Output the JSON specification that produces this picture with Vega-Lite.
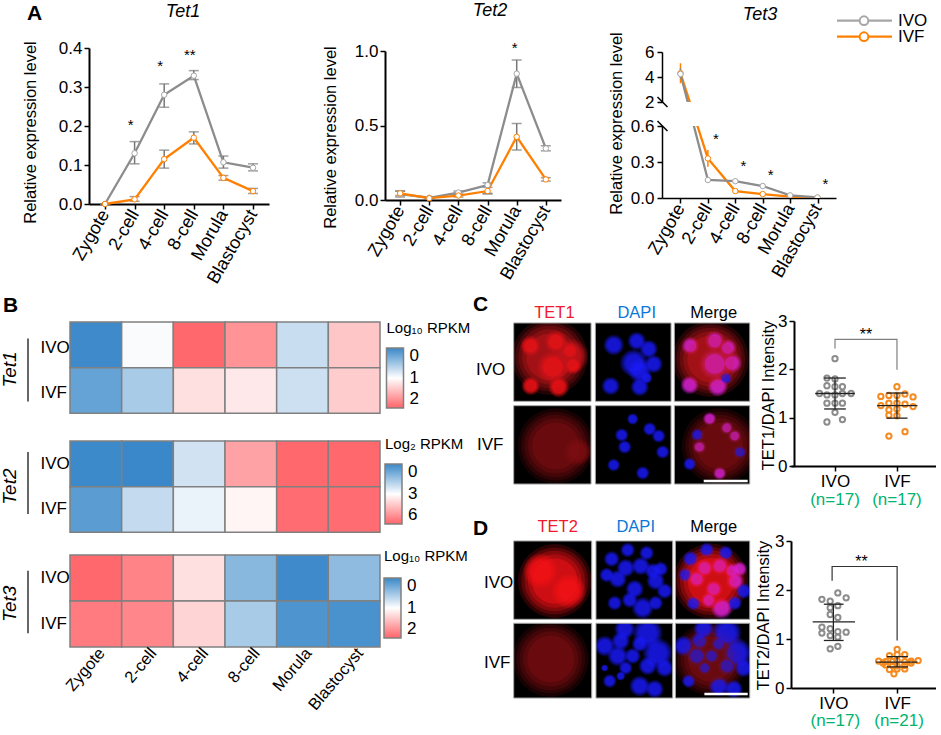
{
"$schema":"https://vega.github.io/schema/vega-lite/v6.json",
"padding":0,"background":"white","spacing":0,
"resolve":{"scale":{"color":"independent"},"legend":{"color":"independent"}},
"config":{"view":{"stroke":null},"font":"Liberation Sans","title":{"fontStyle":"italic","fontWeight":"normal","fontSize":18,"color":"black"},
"axis":{"domainColor":"black","tickColor":"black","labelColor":"black","titleColor":"black","grid":false,"titleFontWeight":"normal","domainWidth":2,"tickWidth":1.5,"tickSize":5,"labelFontSize":17,"titleFontSize":16.5}},
"datasets":{
"lines":[
{"panel":"Tet1","stage":"Zygote","group":"IVO","value":0,"lo":0,"hi":0},{"panel":"Tet1","stage":"2-cell","group":"IVO","value":0.13,"lo":0.103,"hi":0.16},{"panel":"Tet1","stage":"4-cell","group":"IVO","value":0.28,"lo":0.248,"hi":0.308},{"panel":"Tet1","stage":"8-cell","group":"IVO","value":0.329,"lo":0.319,"hi":0.342},{"panel":"Tet1","stage":"Morula","group":"IVO","value":0.107,"lo":0.092,"hi":0.123},{"panel":"Tet1","stage":"Blastocyst","group":"IVO","value":0.093,"lo":0.085,"hi":0.103},
{"panel":"Tet1","stage":"Zygote","group":"IVF","value":0,"lo":0,"hi":0},{"panel":"Tet1","stage":"2-cell","group":"IVF","value":0.012,"lo":0.007,"hi":0.019},{"panel":"Tet1","stage":"4-cell","group":"IVF","value":0.115,"lo":0.092,"hi":0.138},{"panel":"Tet1","stage":"8-cell","group":"IVF","value":0.17,"lo":0.154,"hi":0.185},{"panel":"Tet1","stage":"Morula","group":"IVF","value":0.067,"lo":0.061,"hi":0.073},{"panel":"Tet1","stage":"Blastocyst","group":"IVF","value":0.033,"lo":0.027,"hi":0.04},
{"panel":"Tet2","stage":"Zygote","group":"IVO","value":0.04,"lo":0.02,"hi":0.06},{"panel":"Tet2","stage":"2-cell","group":"IVO","value":0.015,"lo":0.008,"hi":0.022},{"panel":"Tet2","stage":"4-cell","group":"IVO","value":0.05,"lo":0.035,"hi":0.06},{"panel":"Tet2","stage":"8-cell","group":"IVO","value":0.1,"lo":0.045,"hi":0.115},{"panel":"Tet2","stage":"Morula","group":"IVO","value":0.848,"lo":0.755,"hi":0.94},{"panel":"Tet2","stage":"Blastocyst","group":"IVO","value":0.346,"lo":0.33,"hi":0.364},
{"panel":"Tet2","stage":"Zygote","group":"IVF","value":0.045,"lo":0.03,"hi":0.06},{"panel":"Tet2","stage":"2-cell","group":"IVF","value":0.012,"lo":0.005,"hi":0.02},{"panel":"Tet2","stage":"4-cell","group":"IVF","value":0.03,"lo":0.02,"hi":0.04},{"panel":"Tet2","stage":"8-cell","group":"IVF","value":0.06,"lo":0.04,"hi":0.085},{"panel":"Tet2","stage":"Morula","group":"IVF","value":0.424,"lo":0.335,"hi":0.513},{"panel":"Tet2","stage":"Blastocyst","group":"IVF","value":0.138,"lo":0.127,"hi":0.15},
{"panel":"Tet3up","stage":"Zygote","group":"IVF","value":4.3,"lo":3.5,"hi":5.1},{"panel":"Tet3up","stage":"2-cell","group":"IVF","value":-2.48,"lo":-2.48,"hi":-2.48},
{"panel":"Tet3up","stage":"Zygote","group":"IVO","value":4.24,"lo":3.9,"hi":4.7},{"panel":"Tet3up","stage":"2-cell","group":"IVO","value":-4.24,"lo":-4.24,"hi":-4.24},
{"panel":"Tet3low","stage":"Zygote","group":"IVF","value":1.04,"lo":1.04,"hi":1.04},{"panel":"Tet3low","stage":"2-cell","group":"IVF","value":0.33,"lo":0.26,"hi":0.4},{"panel":"Tet3low","stage":"4-cell","group":"IVF","value":0.058,"lo":0.05,"hi":0.066},{"panel":"Tet3low","stage":"8-cell","group":"IVF","value":0.033,"lo":0.028,"hi":0.038},{"panel":"Tet3low","stage":"Morula","group":"IVF","value":0.011,"lo":0.008,"hi":0.014},{"panel":"Tet3low","stage":"Blastocyst","group":"IVF","value":0.002,"lo":0,"hi":0.004},
{"panel":"Tet3low","stage":"Zygote","group":"IVO","value":1.03,"lo":1.03,"hi":1.03},{"panel":"Tet3low","stage":"2-cell","group":"IVO","value":0.15,"lo":0.145,"hi":0.155},{"panel":"Tet3low","stage":"4-cell","group":"IVO","value":0.14,"lo":0.13,"hi":0.15},{"panel":"Tet3low","stage":"8-cell","group":"IVO","value":0.1,"lo":0.093,"hi":0.107},{"panel":"Tet3low","stage":"Morula","group":"IVO","value":0.022,"lo":0.018,"hi":0.026},{"panel":"Tet3low","stage":"Blastocyst","group":"IVO","value":0.005,"lo":0.002,"hi":0.008}
],
"heat":[
{"gene":"Tet1","group":"IVO","stage":"Zygote","v":0.02},{"gene":"Tet1","group":"IVO","stage":"2-cell","v":0.97},{"gene":"Tet1","group":"IVO","stage":"4-cell","v":1.97},{"gene":"Tet1","group":"IVO","stage":"8-cell","v":1.7},{"gene":"Tet1","group":"IVO","stage":"Morula","v":0.72},{"gene":"Tet1","group":"IVO","stage":"Blastocyst","v":1.37},
{"gene":"Tet1","group":"IVF","stage":"Zygote","v":0.22},{"gene":"Tet1","group":"IVF","stage":"2-cell","v":0.56},{"gene":"Tet1","group":"IVF","stage":"4-cell","v":1.2},{"gene":"Tet1","group":"IVF","stage":"8-cell","v":1.15},{"gene":"Tet1","group":"IVF","stage":"Morula","v":0.74},{"gene":"Tet1","group":"IVF","stage":"Blastocyst","v":1.33},
{"gene":"Tet2","group":"IVO","stage":"Zygote","v":0.05},{"gene":"Tet2","group":"IVO","stage":"2-cell","v":0},{"gene":"Tet2","group":"IVO","stage":"4-cell","v":2.3},{"gene":"Tet2","group":"IVO","stage":"8-cell","v":4.8},{"gene":"Tet2","group":"IVO","stage":"Morula","v":5.9},{"gene":"Tet2","group":"IVO","stage":"Blastocyst","v":5.9},
{"gene":"Tet2","group":"IVF","stage":"Zygote","v":0.5},{"gene":"Tet2","group":"IVF","stage":"2-cell","v":2.1},{"gene":"Tet2","group":"IVF","stage":"4-cell","v":2.7},{"gene":"Tet2","group":"IVF","stage":"8-cell","v":3.2},{"gene":"Tet2","group":"IVF","stage":"Morula","v":5.85},{"gene":"Tet2","group":"IVF","stage":"Blastocyst","v":5.85},
{"gene":"Tet3","group":"IVO","stage":"Zygote","v":1.97},{"gene":"Tet3","group":"IVO","stage":"2-cell","v":1.8},{"gene":"Tet3","group":"IVO","stage":"4-cell","v":1.2},{"gene":"Tet3","group":"IVO","stage":"8-cell","v":0.4},{"gene":"Tet3","group":"IVO","stage":"Morula","v":0.02},{"gene":"Tet3","group":"IVO","stage":"Blastocyst","v":0.43},
{"gene":"Tet3","group":"IVF","stage":"Zygote","v":1.85},{"gene":"Tet3","group":"IVF","stage":"2-cell","v":1.78},{"gene":"Tet3","group":"IVF","stage":"4-cell","v":1.28},{"gene":"Tet3","group":"IVF","stage":"8-cell","v":0.56},{"gene":"Tet3","group":"IVF","stage":"Morula","v":0.1},{"gene":"Tet3","group":"IVF","stage":"Blastocyst","v":0.08}
],
"scatter":[
{"p":"C","g":"IVO","x":1,"y":2.22},{"p":"C","g":"IVO","x":0.87,"y":1.82},{"p":"C","g":"IVO","x":1,"y":1.8},{"p":"C","g":"IVO","x":1.12,"y":1.64},{"p":"C","g":"IVO","x":1,"y":1.64},{"p":"C","g":"IVO","x":0.87,"y":1.66},{"p":"C","g":"IVO","x":0.75,"y":1.5},{"p":"C","g":"IVO","x":0.87,"y":1.47},{"p":"C","g":"IVO","x":1,"y":1.47},{"p":"C","g":"IVO","x":1.12,"y":1.5},{"p":"C","g":"IVO","x":1.26,"y":1.5},{"p":"C","g":"IVO","x":0.87,"y":1.3},{"p":"C","g":"IVO","x":1,"y":1.3},{"p":"C","g":"IVO","x":1.12,"y":1.3},{"p":"C","g":"IVO","x":1,"y":1.11},{"p":"C","g":"IVO","x":0.87,"y":0.91},{"p":"C","g":"IVO","x":1.12,"y":0.96},
{"p":"C","g":"IVF","x":2,"y":1.64},{"p":"C","g":"IVF","x":1.87,"y":1.46},{"p":"C","g":"IVF","x":2,"y":1.46},{"p":"C","g":"IVF","x":2.13,"y":1.49},{"p":"C","g":"IVF","x":1.74,"y":1.44},{"p":"C","g":"IVF","x":2.26,"y":1.43},{"p":"C","g":"IVF","x":1.87,"y":1.3},{"p":"C","g":"IVF","x":2,"y":1.3},{"p":"C","g":"IVF","x":2.13,"y":1.28},{"p":"C","g":"IVF","x":1.74,"y":1.25},{"p":"C","g":"IVF","x":2.26,"y":1.23},{"p":"C","g":"IVF","x":1.87,"y":1.16},{"p":"C","g":"IVF","x":2,"y":1.18},{"p":"C","g":"IVF","x":2,"y":1.04},{"p":"C","g":"IVF","x":1.87,"y":1.05},{"p":"C","g":"IVF","x":1.87,"y":0.62},{"p":"C","g":"IVF","x":2.13,"y":0.71},
{"p":"D","g":"IVO","x":1.07,"y":1.94},{"p":"D","g":"IVO","x":1.2,"y":1.84},{"p":"D","g":"IVO","x":0.82,"y":1.81},{"p":"D","g":"IVO","x":0.95,"y":1.77},{"p":"D","g":"IVO","x":0.95,"y":1.64},{"p":"D","g":"IVO","x":1.07,"y":1.68},{"p":"D","g":"IVO","x":0.95,"y":1.5},{"p":"D","g":"IVO","x":1.07,"y":1.44},{"p":"D","g":"IVO","x":0.82,"y":1.24},{"p":"D","g":"IVO","x":0.95,"y":1.21},{"p":"D","g":"IVO","x":0.82,"y":1.12},{"p":"D","g":"IVO","x":1.07,"y":1.15},{"p":"D","g":"IVO","x":1.2,"y":1.14},{"p":"D","g":"IVO","x":0.95,"y":1.07},{"p":"D","g":"IVO","x":1.07,"y":1.04},{"p":"D","g":"IVO","x":1.07,"y":0.85},{"p":"D","g":"IVO","x":0.95,"y":0.8},
{"p":"D","g":"IVF","x":2,"y":0.79},{"p":"D","g":"IVF","x":2.12,"y":0.68},{"p":"D","g":"IVF","x":1.88,"y":0.66},{"p":"D","g":"IVF","x":2,"y":0.68},{"p":"D","g":"IVF","x":1.71,"y":0.55},{"p":"D","g":"IVF","x":1.82,"y":0.54},{"p":"D","g":"IVF","x":1.93,"y":0.54},{"p":"D","g":"IVF","x":2.12,"y":0.54},{"p":"D","g":"IVF","x":2.22,"y":0.55},{"p":"D","g":"IVF","x":2.33,"y":0.56},{"p":"D","g":"IVF","x":2,"y":0.56},{"p":"D","g":"IVF","x":1.82,"y":0.47},{"p":"D","g":"IVF","x":1.93,"y":0.46},{"p":"D","g":"IVF","x":2.12,"y":0.46},{"p":"D","g":"IVF","x":2,"y":0.45},{"p":"D","g":"IVF","x":2.22,"y":0.51},{"p":"D","g":"IVF","x":1.78,"y":0.51},{"p":"D","g":"IVF","x":1.88,"y":0.38},{"p":"D","g":"IVF","x":2,"y":0.39},{"p":"D","g":"IVF","x":2.12,"y":0.39},{"p":"D","g":"IVF","x":1.95,"y":0.29}
],
"bars":[
{"p":"C","x":0.68,"x2":1.32,"y":1.5,"y2":1.5},{"p":"C","x":1,"x2":1,"y":1.18,"y2":1.82},{"p":"C","x":0.825,"x2":1.175,"y":1.82,"y2":1.82},{"p":"C","x":0.825,"x2":1.175,"y":1.18,"y2":1.18},
{"p":"C","x":1.68,"x2":2.33,"y":1.25,"y2":1.25},{"p":"C","x":2,"x2":2,"y":0.99,"y2":1.51},{"p":"C","x":1.83,"x2":2.17,"y":1.51,"y2":1.51},{"p":"C","x":1.83,"x2":2.17,"y":0.99,"y2":0.99},
{"p":"D","x":0.675,"x2":1.34,"y":1.35,"y2":1.35},{"p":"D","x":1,"x2":1,"y":0.97,"y2":1.71},{"p":"D","x":0.85,"x2":1.16,"y":1.71,"y2":1.71},{"p":"D","x":0.85,"x2":1.16,"y":0.97,"y2":0.97},
{"p":"D","x":1.67,"x2":2.32,"y":0.53,"y2":0.53},{"p":"D","x":2,"x2":2,"y":0.43,"y2":0.64},{"p":"D","x":1.84,"x2":2.17,"y":0.64,"y2":0.64},{"p":"D","x":1.84,"x2":2.17,"y":0.43,"y2":0.43}
],
"bracket":[
{"p":"C","i":1,"x":1,"y":2.43},{"p":"C","i":2,"x":1,"y":2.62},{"p":"C","i":3,"x":2,"y":2.62},{"p":"C","i":4,"x":2,"y":1.99},
{"p":"D","i":1,"x":0.98,"y":2.19},{"p":"D","i":2,"x":0.98,"y":2.48},{"p":"D","i":3,"x":2,"y":2.48},{"p":"D","i":4,"x":2,"y":0.97}
],
"scatterText":[
{"p":"C","x":1.5,"y":2.72,"k":"star","label":"**"},{"p":"C","x":1,"y":-0.7,"k":"n","label":"(n=17)"},{"p":"C","x":2,"y":-0.7,"k":"n","label":"(n=17)"},
{"p":"D","x":1.44,"y":2.58,"k":"star","label":"**"},{"p":"D","x":1.03,"y":-0.68,"k":"n","label":"(n=17)"},{"p":"D","x":2.03,"y":-0.68,"k":"n","label":"(n=21)"}
],
"gutter":[
{"gene":"Tet1","x":10,"y":0.52,"y1":0.18,"y2":0.87},{"gene":"Tet2","x":10,"y":0.5,"y1":0.12,"y2":0.8},{"gene":"Tet3","x":10,"y":0.53,"y1":0.17,"y2":0.85}
],
"blobs":[
{"p":"C","x":36,"y":34,"a":3400,"t":"body"},{"p":"C","x":57,"y":33,"a":700,"t":"body"},{"p":"C","x":39,"y":44,"a":615,"t":"red"},{"p":"C","x":17,"y":23,"a":254,"t":"red"},{"p":"C","x":42,"y":19,"a":314,"t":"red"},{"p":"C","x":56,"y":28,"a":200,"t":"red"},{"p":"C","x":59,"y":42,"a":200,"t":"red"},{"p":"C","x":17,"y":63,"a":200,"t":"red"},{"p":"C","x":45,"y":64,"a":254,"t":"red"},
{"p":"C","x":100,"y":22,"a":254,"t":"blue"},{"p":"C","x":123,"y":18,"a":200,"t":"blue"},{"p":"C","x":135,"y":26,"a":200,"t":"blue"},{"p":"C","x":120,"y":40,"a":450,"t":"blue"},{"p":"C","x":126,"y":48,"a":314,"t":"blue"},{"p":"C","x":140,"y":41,"a":200,"t":"blue"},{"p":"C","x":133,"y":55,"a":80,"t":"blue"},{"p":"C","x":97,"y":63,"a":200,"t":"blue"},{"p":"C","x":126,"y":64,"a":200,"t":"blue"},
{"p":"C","x":197,"y":36,"a":3400,"t":"body"},{"p":"C","x":177,"y":23,"a":200,"t":"magenta"},{"p":"C","x":201,"y":18,"a":254,"t":"magenta"},{"p":"C","x":214,"y":25,"a":200,"t":"magenta"},{"p":"C","x":201,"y":41,"a":615,"t":"magenta"},{"p":"C","x":218,"y":40,"a":254,"t":"magenta"},{"p":"C","x":212,"y":55,"a":100,"t":"blue"},{"p":"C","x":176,"y":62,"a":200,"t":"magenta"},{"p":"C","x":204,"y":63,"a":254,"t":"magenta"},
{"p":"C","x":42,"y":123,"a":3400,"t":"dim"},{"p":"C","x":64,"y":129,"a":450,"t":"dim"},
{"p":"C","x":119,"y":96,"a":80,"t":"blue"},{"p":"C","x":136,"y":106,"a":110,"t":"blue"},{"p":"C","x":145,"y":113,"a":110,"t":"blue"},{"p":"C","x":108,"y":112,"a":110,"t":"blue"},{"p":"C","x":111,"y":124,"a":110,"t":"blue"},{"p":"C","x":149,"y":129,"a":110,"t":"blue"},{"p":"C","x":100,"y":142,"a":100,"t":"blue"},{"p":"C","x":129,"y":150,"a":110,"t":"blue"},
{"p":"C","x":206,"y":123,"a":3400,"t":"dim"},{"p":"C","x":196,"y":96,"a":110,"t":"magenta"},{"p":"C","x":213,"y":105,"a":110,"t":"magenta"},{"p":"C","x":221,"y":113,"a":110,"t":"magenta"},{"p":"C","x":184,"y":112,"a":110,"t":"blue"},{"p":"C","x":186,"y":124,"a":110,"t":"magenta"},{"p":"C","x":226,"y":129,"a":110,"t":"blue"},{"p":"C","x":176,"y":141,"a":100,"t":"blue"},{"p":"C","x":206,"y":150,"a":110,"t":"magenta"},
{"p":"D","x":41,"y":40,"a":3200,"t":"red"},{"p":"D","x":27,"y":30,"a":700,"t":"red"},{"p":"D","x":55,"y":50,"a":700,"t":"red"},
{"p":"D","x":114,"y":9,"a":130,"t":"blue"},{"p":"D","x":133,"y":12,"a":130,"t":"blue"},{"p":"D","x":98,"y":18,"a":150,"t":"blue"},{"p":"D","x":93,"y":34,"a":130,"t":"blue"},{"p":"D","x":104,"y":38,"a":200,"t":"blue"},{"p":"D","x":112,"y":27,"a":200,"t":"blue"},{"p":"D","x":127,"y":25,"a":200,"t":"blue"},{"p":"D","x":139,"y":30,"a":150,"t":"blue"},{"p":"D","x":147,"y":28,"a":130,"t":"blue"},{"p":"D","x":142,"y":40,"a":200,"t":"blue"},{"p":"D","x":121,"y":48,"a":200,"t":"blue"},{"p":"D","x":151,"y":50,"a":150,"t":"blue"},{"p":"D","x":101,"y":62,"a":130,"t":"blue"},{"p":"D","x":116,"y":59,"a":150,"t":"blue"},{"p":"D","x":129,"y":67,"a":280,"t":"blue"},{"p":"D","x":142,"y":62,"a":130,"t":"blue"},
{"p":"D","x":197,"y":40,"a":3300,"t":"red"},{"p":"D","x":193,"y":9,"a":130,"t":"blue"},{"p":"D","x":212,"y":12,"a":130,"t":"blue"},{"p":"D","x":177,"y":18,"a":150,"t":"blue"},{"p":"D","x":172,"y":34,"a":130,"t":"blue"},{"p":"D","x":183,"y":38,"a":200,"t":"magenta"},{"p":"D","x":191,"y":27,"a":200,"t":"magenta"},{"p":"D","x":206,"y":25,"a":200,"t":"magenta"},{"p":"D","x":218,"y":30,"a":150,"t":"magenta"},{"p":"D","x":226,"y":28,"a":130,"t":"magenta"},{"p":"D","x":221,"y":40,"a":200,"t":"magenta"},{"p":"D","x":200,"y":48,"a":200,"t":"magenta"},{"p":"D","x":230,"y":50,"a":150,"t":"blue"},{"p":"D","x":180,"y":62,"a":130,"t":"blue"},{"p":"D","x":195,"y":59,"a":150,"t":"magenta"},{"p":"D","x":208,"y":67,"a":280,"t":"magenta"},{"p":"D","x":221,"y":62,"a":130,"t":"blue"},
{"p":"D","x":37,"y":118,"a":3400,"t":"dim"},
{"p":"D","x":111,"y":88,"a":254,"t":"blue"},{"p":"D","x":134,"y":92,"a":530,"t":"blue"},{"p":"D","x":91,"y":105,"a":254,"t":"blue"},{"p":"D","x":107,"y":100,"a":200,"t":"blue"},{"p":"D","x":126,"y":103,"a":154,"t":"blue"},{"p":"D","x":144,"y":112,"a":530,"t":"blue"},{"p":"D","x":104,"y":115,"a":254,"t":"blue"},{"p":"D","x":119,"y":115,"a":154,"t":"blue"},{"p":"D","x":151,"y":127,"a":200,"t":"blue"},{"p":"D","x":112,"y":127,"a":113,"t":"blue"},{"p":"D","x":134,"y":125,"a":200,"t":"blue"},{"p":"D","x":96,"y":140,"a":113,"t":"blue"},{"p":"D","x":107,"y":135,"a":50,"t":"blue"},{"p":"D","x":126,"y":145,"a":254,"t":"blue"},{"p":"D","x":141,"y":148,"a":200,"t":"blue"},{"p":"D","x":91,"y":127,"a":30,"t":"blue"},
{"p":"D","x":197,"y":118,"a":3200,"t":"dim"},
{"p":"D","x":190,"y":88,"a":254,"t":"blue"},{"p":"D","x":213,"y":92,"a":530,"t":"blue"},{"p":"D","x":170,"y":105,"a":254,"t":"blue"},{"p":"D","x":186,"y":100,"a":200,"t":"blue"},{"p":"D","x":205,"y":103,"a":154,"t":"blue"},{"p":"D","x":223,"y":112,"a":530,"t":"blue"},{"p":"D","x":183,"y":115,"a":254,"t":"blue"},{"p":"D","x":198,"y":115,"a":154,"t":"blue"},{"p":"D","x":230,"y":127,"a":200,"t":"blue"},{"p":"D","x":191,"y":127,"a":113,"t":"blue"},{"p":"D","x":213,"y":125,"a":200,"t":"blue"},{"p":"D","x":175,"y":140,"a":113,"t":"blue"},{"p":"D","x":205,"y":145,"a":254,"t":"blue"},{"p":"D","x":220,"y":148,"a":200,"t":"blue"}
],
"panels":[
{"p":"C","x":0,"x2":77.3,"y":0,"y2":78.3},{"p":"C","x":81.7,"x2":157.3,"y":0,"y2":78.3},{"p":"C","x":160.7,"x2":236,"y":0,"y2":78.3},{"p":"C","x":0,"x2":77.3,"y":82.7,"y2":161},{"p":"C","x":81.7,"x2":157.3,"y":82.7,"y2":161},{"p":"C","x":160.7,"x2":236,"y":82.7,"y2":161},
{"p":"D","x":0,"x2":78,"y":0,"y2":78.3},{"p":"D","x":82.3,"x2":159,"y":0,"y2":78.3},{"p":"D","x":161.7,"x2":236,"y":0,"y2":78.3},{"p":"D","x":0,"x2":78,"y":82.3,"y2":157},{"p":"D","x":82.3,"x2":159,"y":82.3,"y2":157},{"p":"D","x":161.7,"x2":236,"y":82.3,"y2":157}
],
"gaps":[
{"p":"C","x":77.3,"x2":81.7,"y":0,"y2":161},{"p":"C","x":157.3,"x2":160.7,"y":0,"y2":161},{"p":"C","x":0,"x2":236,"y":78.3,"y2":82.7},{"p":"C","x":-40.7,"x2":0,"y":0,"y2":161},{"p":"C","x":-40.7,"x2":236.3,"y":-2,"y2":0},
{"p":"D","x":78,"x2":82.3,"y":0,"y2":157},{"p":"D","x":159,"x2":161.7,"y":0,"y2":157},{"p":"D","x":0,"x2":236,"y":78.3,"y2":82.3},{"p":"D","x":-40.7,"x2":0,"y":0,"y2":157}
],
"bars2":[{"p":"C","x":190,"x2":234,"y":158},{"p":"D","x":190.7,"x2":234,"y":153}],
"microText":[
{"p":"C","k":"c","c":"red","label":"TET1","x":40.7,"y":-10},{"p":"C","k":"c","c":"blue","label":"DAPI","x":123,"y":-10},{"p":"C","k":"c","c":"black","label":"Merge","x":200,"y":-10},
{"p":"C","k":"l","c":"black","label":"IVO","x":-37.7,"y":47},{"p":"C","k":"l","c":"black","label":"IVF","x":-36.7,"y":122},{"p":"C","k":"b","c":"black","label":"C","x":-40.7,"y":-18},
{"p":"D","k":"c","c":"red","label":"TET2","x":44,"y":-13.7},{"p":"D","k":"c","c":"blue","label":"DAPI","x":122,"y":-13.7},{"p":"D","k":"c","c":"black","label":"Merge","x":200,"y":-13.7},
{"p":"D","k":"l","c":"black","label":"IVO","x":-29.7,"y":42},{"p":"D","k":"l","c":"black","label":"IVF","x":-29.7,"y":122},{"p":"D","k":"b","c":"black","label":"D","x":-40.7,"y":-11.7}
],
"legendRows":[
{"group":"IVO","x":175,"y":20.7},{"group":"IVO","x":230,"y":20.7},{"group":"IVF","x":175,"y":36.7},{"group":"IVF","x":230,"y":36.7}
],
"legendMarks":[{"group":"IVO","x":202,"y":20.7,"tx":236},{"group":"IVF","x":202,"y":36.7,"tx":236}]
},
"vconcat":[
{"columns":6,"bounds":"flush","spacing":0,"resolve":{"scale":{"color":"independent"},"legend":{"color":"independent"}},"concat":[
{"width":89,"height":48,"data":{"values":[]},"mark":"point","title":{"text":"A","anchor":"start","frame":"group","dx":27,"offset":-24,"fontStyle":"normal","fontWeight":"bold","fontSize":21}},
{"width":180,"height":0,"data":{"values":[]},"mark":"point"},
{"width":116,"height":0,"data":{"values":[]},"mark":"point"},
{"width":176,"height":0,"data":{"values":[]},"mark":"point"},
{"width":101,"height":0,"data":{"values":[]},"mark":"point"},
{"width":259,"height":48,"data":{"name":"legendRows"},
 "encoding":{"x":{"field":"x","type":"quantitative","scale":{"domain":[0,259]},"axis":null},"y":{"field":"y","type":"quantitative","scale":{"domain":[48,0]},"axis":null}},
 "layer":[
  {"mark":{"type":"line","strokeWidth":2.3},"encoding":{"detail":{"field":"group"},"color":{"field":"group","type":"nominal","scale":{"domain":["IVO","IVF"],"range":["#a6a6a6","#ff8000"]},"legend":null}}},
  {"data":{"name":"legendMarks"},"mark":{"type":"point","filled":true,"fill":"white","size":75,"strokeWidth":2,"opacity":1},"encoding":{"stroke":{"field":"group","type":"nominal","scale":{"domain":["IVO","IVF"],"range":["#a6a6a6","#ff8000"]},"legend":null}}},
  {"data":{"name":"legendMarks"},"mark":{"type":"text","align":"left","fontSize":17,"color":"black"},"encoding":{"x":{"field":"tx","type":"quantitative","scale":{"domain":[0,259]},"axis":null},"text":{"field":"group"}}}
 ]},

{"width":89,"height":244,"data":{"values":[]},"mark":"point"},
{"width":180,"height":156,"title":{"text":"Tet1","dx":4,"offset":18},"data":{"name":"lines"},"transform":[{"filter":"datum.panel=='Tet1'"}],
 "encoding":{"x":{"field":"stage","type":"ordinal","sort":null,"scale":{"type":"point","padding":0.54,"domain":["Zygote","2-cell","4-cell","8-cell","Morula","Blastocyst"]},"axis":{"title":null,"labelAngle":-60,"labelFontSize":18}},
 "y":{"field":"value","type":"quantitative","scale":{"domain":[0,0.4]},"axis":{"title":"Relative expression level","values":[0,0.1,0.2,0.3,0.4],"format":".1f","titleX":-51,"titleY":84}}},
 "layer":[
  {"mark":{"type":"rule","color":"#777777","strokeWidth":1.5},"encoding":{"y":{"field":"lo","type":"quantitative","scale":{"domain":[0,0.4]},"axis":{"title":"Relative expression level","values":[0,0.1,0.2,0.3,0.4],"format":".1f","titleX":-51,"titleY":84}},"y2":{"field":"hi"}}},
  {"mark":{"type":"tick","orient":"horizontal","size":10,"thickness":1.5,"color":"#777777"},"encoding":{"y":{"field":"lo","type":"quantitative","scale":{"domain":[0,0.4]},"axis":{"title":"Relative expression level","values":[0,0.1,0.2,0.3,0.4],"format":".1f","titleX":-51,"titleY":84}}}},
  {"mark":{"type":"tick","orient":"horizontal","size":10,"thickness":1.5,"color":"#777777"},"encoding":{"y":{"field":"hi","type":"quantitative","scale":{"domain":[0,0.4]},"axis":{"title":"Relative expression level","values":[0,0.1,0.2,0.3,0.4],"format":".1f","titleX":-51,"titleY":84}}}},
  {"mark":{"type":"line","strokeWidth":2.3},"encoding":{"color":{"field":"group","type":"nominal","scale":{"domain":["IVO","IVF"],"range":["#8c8c8c","#ff8000"]},"legend":null}}},
  {"mark":{"type":"point","filled":true,"fill":"white","size":30,"strokeWidth":1,"opacity":1},"encoding":{"stroke":{"field":"group","type":"nominal","scale":{"domain":["IVO","IVF"],"range":["#a6a6a6","#ff8000"]},"legend":null}}},
  {"data":{"values":[{"stage":"2-cell","value":0.202,"label":"*"},{"stage":"4-cell","value":0.355,"label":"*"},{"stage":"8-cell","value":0.381,"label":"**"}]},"transform":[],"mark":{"type":"text","dx":-4,"fontSize":15,"color":"black"},"encoding":{"text":{"field":"label"}}}
 ]},
{"width":116,"height":0,"data":{"values":[]},"mark":"point"},
{"vconcat":[
 {"width":176,"height":3,"data":{"values":[]},"mark":"point"},
 {"width":176,"height":149,"title":{"text":"Tet2","dx":17,"offset":21},"data":{"name":"lines"},"transform":[{"filter":"datum.panel=='Tet2'"}],
 "encoding":{"x":{"field":"stage","type":"ordinal","sort":null,"scale":{"type":"point","padding":0.52,"domain":["Zygote","2-cell","4-cell","8-cell","Morula","Blastocyst"]},"axis":{"title":null,"labelAngle":-60,"labelFontSize":18}},
 "y":{"field":"value","type":"quantitative","scale":{"domain":[0,1]},"axis":{"title":"Relative expression level","values":[0,0.5,1],"format":".1f","titleX":-47,"titleY":86}}},
 "layer":[
  {"mark":{"type":"rule","color":"#777777","strokeWidth":1.5},"encoding":{"y":{"field":"lo","type":"quantitative","scale":{"domain":[0,1]},"axis":{"title":"Relative expression level","values":[0,0.5,1],"format":".1f","titleX":-47,"titleY":86}},"y2":{"field":"hi"}}},
  {"mark":{"type":"tick","orient":"horizontal","size":10,"thickness":1.5,"color":"#777777"},"encoding":{"y":{"field":"lo","type":"quantitative","scale":{"domain":[0,1]},"axis":{"title":"Relative expression level","values":[0,0.5,1],"format":".1f","titleX":-47,"titleY":86}}}},
  {"mark":{"type":"tick","orient":"horizontal","size":10,"thickness":1.5,"color":"#777777"},"encoding":{"y":{"field":"hi","type":"quantitative","scale":{"domain":[0,1]},"axis":{"title":"Relative expression level","values":[0,0.5,1],"format":".1f","titleX":-47,"titleY":86}}}},
  {"mark":{"type":"line","strokeWidth":2.3},"encoding":{"color":{"field":"group","type":"nominal","scale":{"domain":["IVO","IVF"],"range":["#8c8c8c","#ff8000"]},"legend":null}}},
  {"mark":{"type":"point","filled":true,"fill":"white","size":30,"strokeWidth":1,"opacity":1},"encoding":{"stroke":{"field":"group","type":"nominal","scale":{"domain":["IVO","IVF"],"range":["#a6a6a6","#ff8000"]},"legend":null}}},
  {"data":{"values":[{"stage":"Morula","value":1.02,"label":"*"}]},"mark":{"type":"text","dx":-2,"fontSize":15,"color":"black"},"encoding":{"text":{"field":"label"}}}
 ]}
],"bounds":"flush","spacing":0,"resolve":{"scale":{"color":"independent"},"legend":{"color":"independent"}}},
{"width":101,"height":0,"data":{"values":[]},"mark":"point"},
{"vconcat":[
 {"width":174,"height":4,"data":{"values":[]},"mark":"point"},
 {"width":174,"height":50,"title":{"text":"Tet3","dx":11,"offset":19},"data":{"name":"lines"},"transform":[{"filter":"datum.panel=='Tet3up'"}],
 "encoding":{"x":{"field":"stage","type":"ordinal","sort":null,"scale":{"type":"point","padding":0.675,"domain":["Zygote","2-cell","4-cell","8-cell","Morula","Blastocyst"]},"axis":null},
 "y":{"field":"value","type":"quantitative","scale":{"domain":[2,6]},"axis":{"title":null,"values":[2,4,6],"domainWidth":1.5,"labelPadding":3}}},
 "layer":[
  {"mark":{"type":"rule","strokeWidth":1.5,"clip":true},"encoding":{"y":{"field":"lo","type":"quantitative","scale":{"domain":[2,6]},"axis":{"title":null,"values":[2,4,6],"domainWidth":1.5,"labelPadding":3}},"y2":{"field":"hi"},"color":{"field":"group","type":"nominal","scale":{"domain":["IVO","IVF"],"range":["#8c8c8c","#ff8000"]},"legend":null}}},
  {"mark":{"type":"line","strokeWidth":2.3,"clip":true},"encoding":{"color":{"field":"group","type":"nominal","scale":{"domain":["IVO","IVF"],"range":["#8c8c8c","#ff8000"]},"legend":null}}},
  {"mark":{"type":"point","filled":true,"fill":"white","size":30,"strokeWidth":1,"opacity":1,"clip":true},"encoding":{"stroke":{"field":"group","type":"nominal","scale":{"domain":["IVO","IVF"],"range":["#a6a6a6","#ff8000"]},"legend":null}}},
  {"data":{"values":[{"stage":"Zygote","value":2}]},"mark":{"type":"point","shape":"M-1,-1L1,1","size":100,"strokeWidth":1.5,"color":"black","opacity":1,"xOffset":-18}}
 ]},
 {"width":10,"height":24,"data":{"values":[]},"mark":"point"},
 {"width":174,"height":72,"data":{"name":"lines"},"transform":[{"filter":"datum.panel=='Tet3low'"}],
 "encoding":{"x":{"field":"stage","type":"ordinal","sort":null,"scale":{"type":"point","padding":0.675,"domain":["Zygote","2-cell","4-cell","8-cell","Morula","Blastocyst"]},"axis":{"title":null,"labelAngle":-60,"labelFontSize":18,"domainWidth":1.5}},
 "y":{"field":"value","type":"quantitative","scale":{"domain":[0,0.6]},"axis":{"title":"Relative expression level","values":[0,0.3,0.6],"format":".1f","domainWidth":1.5,"labelPadding":3,"titleX":-38,"titleY":-3}}},
 "layer":[
  {"mark":{"type":"rule","strokeWidth":1.5,"clip":true},"encoding":{"y":{"field":"lo","type":"quantitative","scale":{"domain":[0,0.6]},"axis":{"title":"Relative expression level","values":[0,0.3,0.6],"format":".1f","domainWidth":1.5,"labelPadding":3,"titleX":-38,"titleY":-3}},"y2":{"field":"hi"},"color":{"field":"group","type":"nominal","scale":{"domain":["IVO","IVF"],"range":["#8c8c8c","#ff8000"]},"legend":null}}},
  {"mark":{"type":"line","strokeWidth":2.3,"clip":true},"encoding":{"color":{"field":"group","type":"nominal","scale":{"domain":["IVO","IVF"],"range":["#8c8c8c","#ff8000"]},"legend":null}}},
  {"mark":{"type":"point","filled":true,"fill":"white","size":30,"strokeWidth":1,"opacity":1,"clip":true},"encoding":{"stroke":{"field":"group","type":"nominal","scale":{"domain":["IVO","IVF"],"range":["#a6a6a6","#ff8000"]},"legend":null}}},
  {"data":{"values":[{"stage":"2-cell","value":0.49,"label":"*"},{"stage":"4-cell","value":0.265,"label":"*"},{"stage":"8-cell","value":0.19,"label":"*"},{"stage":"Blastocyst","value":0.115,"label":"*"}]},"mark":{"type":"text","dx":8,"fontSize":15,"color":"black"},"encoding":{"text":{"field":"label"}}},
  {"data":{"values":[{"stage":"Zygote","value":0.6}]},"mark":{"type":"point","shape":"M-1,-1L1,1","size":100,"strokeWidth":1.5,"color":"black","opacity":1,"xOffset":-18}}
 ]}
],"bounds":"flush","spacing":0,"resolve":{"scale":{"color":"independent"},"legend":{"color":"independent"}}}
]},

{"hconcat":[
{"columns":3,"bounds":"flush","spacing":0,"resolve":{"scale":{"color":"independent"},"legend":{"color":"independent"}},"concat":[
{"width":69.5,"height":29.2,"data":{"values":[]},"mark":"point"},
{"width":310,"height":0,"data":{"values":[]},"mark":"point"},
{"width":92.5,"height":0,"data":{"values":[]},"mark":"point"},

{"width":69.5,"height":91.3,"data":{"name":"gutter"},"transform":[{"filter":"datum.gene=='Tet1'"}],
 "encoding":{"x":{"field":"x","type":"quantitative","scale":{"domain":[0,69.5]},"axis":null},"y":{"field":"y","type":"quantitative","scale":{"domain":[0,1],"reverse":true},"axis":null}},
 "layer":[
  {"mark":{"type":"text","angle":-90,"fontStyle":"italic","fontSize":19,"baseline":"middle","color":"black"},"encoding":{"text":{"field":"gene"}}},
  {"mark":{"type":"rule","color":"#666666","strokeWidth":2},"encoding":{"x":{"datum":28,"type":"quantitative","scale":{"domain":[0,69.5]},"axis":null},"y":{"field":"y1","type":"quantitative","scale":{"domain":[0,1],"reverse":true},"axis":null},"y2":{"field":"y2"}}},
  {"data":{"values":[{"x":3,"y":-0.18,"label":"B"}]},"transform":[],"mark":{"type":"text","align":"left","fontWeight":"bold","fontSize":21,"color":"black"},"encoding":{"text":{"field":"label"}}}
 ]},
{"width":310,"height":91.3,"data":{"name":"heat"},"transform":[{"filter":"datum.gene=='Tet1'"}],
 "mark":{"type":"rect","stroke":"#808080","strokeWidth":1.5},
 "encoding":{"x":{"field":"stage","type":"nominal","sort":null,"scale":{"domain":["Zygote","2-cell","4-cell","8-cell","Morula","Blastocyst"],"padding":0},"axis":null},"y":{"field":"group","type":"nominal","sort":null,"scale":{"domain":["IVO","IVF"],"padding":0},"axis":{"title":null,"ticks":false,"domain":false,"labelAlign":"left","labelPadding":30,"labelOffset":3}},
 "color":{"field":"v","type":"quantitative","scale":{"domain":[2,1,0],"range":["#ff6469","#ffffff","#3a88c9"],"interpolate":"rgb"},"legend":{"orient":"none","legendX":316.5,"legendY":-1,"title":"Log₁₀ RPKM","titleFontSize":15,"titleFontWeight":"normal","titleColor":"black","titlePadding":12,"gradientLength":60,"gradientThickness":17,"gradientStrokeColor":"#808080","gradientStrokeWidth":1.5,"labelFontSize":17,"labelColor":"black","values":[0,1,2],"labelOffset":6,"titleLimit":300,"direction":"vertical"}}}},
{"width":92.5,"height":0,"data":{"values":[]},"mark":"point"},

{"width":0,"height":26.7,"data":{"values":[]},"mark":"point"},
{"width":0,"height":0,"data":{"values":[]},"mark":"point"},
{"width":0,"height":0,"data":{"values":[]},"mark":"point"},

{"width":69.5,"height":91.3,"data":{"name":"gutter"},"transform":[{"filter":"datum.gene=='Tet2'"}],
 "encoding":{"x":{"field":"x","type":"quantitative","scale":{"domain":[0,69.5]},"axis":null},"y":{"field":"y","type":"quantitative","scale":{"domain":[0,1],"reverse":true},"axis":null}},
 "layer":[
  {"mark":{"type":"text","angle":-90,"fontStyle":"italic","fontSize":19,"baseline":"middle","color":"black"},"encoding":{"text":{"field":"gene"}}},
  {"mark":{"type":"rule","color":"#666666","strokeWidth":2},"encoding":{"x":{"datum":28,"type":"quantitative","scale":{"domain":[0,69.5]},"axis":null},"y":{"field":"y1","type":"quantitative","scale":{"domain":[0,1],"reverse":true},"axis":null},"y2":{"field":"y2"}}}
 ]},
{"width":310,"height":91.3,"data":{"name":"heat"},"transform":[{"filter":"datum.gene=='Tet2'"}],
 "mark":{"type":"rect","stroke":"#808080","strokeWidth":1.5},
 "encoding":{"x":{"field":"stage","type":"nominal","sort":null,"scale":{"domain":["Zygote","2-cell","4-cell","8-cell","Morula","Blastocyst"],"padding":0},"axis":null},"y":{"field":"group","type":"nominal","sort":null,"scale":{"domain":["IVO","IVF"],"padding":0},"axis":{"title":null,"ticks":false,"domain":false,"labelAlign":"left","labelPadding":30}},
 "color":{"field":"v","type":"quantitative","scale":{"domain":[6,3,0],"range":["#ff6469","#ffffff","#3a88c9"],"interpolate":"rgb"},"legend":{"orient":"none","legendX":315,"legendY":-4,"title":"Log₂ RPKM","titleFontSize":15,"titleFontWeight":"normal","titleColor":"black","titlePadding":12,"gradientLength":60,"gradientThickness":17,"gradientStrokeColor":"#808080","gradientStrokeWidth":1.5,"labelFontSize":17,"labelColor":"black","values":[0,3,6],"labelOffset":6,"titleLimit":300,"direction":"vertical"}}}},
{"width":0,"height":0,"data":{"values":[]},"mark":"point"},

{"width":0,"height":21.7,"data":{"values":[]},"mark":"point"},
{"width":0,"height":0,"data":{"values":[]},"mark":"point"},
{"width":0,"height":0,"data":{"values":[]},"mark":"point"},

{"width":69.5,"height":92,"data":{"name":"gutter"},"transform":[{"filter":"datum.gene=='Tet3'"}],
 "encoding":{"x":{"field":"x","type":"quantitative","scale":{"domain":[0,69.5]},"axis":null},"y":{"field":"y","type":"quantitative","scale":{"domain":[0,1],"reverse":true},"axis":null}},
 "layer":[
  {"mark":{"type":"text","angle":-90,"fontStyle":"italic","fontSize":19,"baseline":"middle","color":"black"},"encoding":{"text":{"field":"gene"}}},
  {"mark":{"type":"rule","color":"#666666","strokeWidth":2},"encoding":{"x":{"datum":28,"type":"quantitative","scale":{"domain":[0,69.5]},"axis":null},"y":{"field":"y1","type":"quantitative","scale":{"domain":[0,1],"reverse":true},"axis":null},"y2":{"field":"y2"}}}
 ]},
{"width":310,"height":92,"data":{"name":"heat"},"transform":[{"filter":"datum.gene=='Tet3'"}],
 "mark":{"type":"rect","stroke":"#808080","strokeWidth":1.5},
 "encoding":{"x":{"field":"stage","type":"nominal","sort":null,"scale":{"domain":["Zygote","2-cell","4-cell","8-cell","Morula","Blastocyst"],"padding":0},"axis":{"title":null,"labelAngle":-50,"labelFontSize":16.5,"ticks":false,"domain":false,"labelPadding":3,"labelOffset":6}},"y":{"field":"group","type":"nominal","sort":null,"scale":{"domain":["IVO","IVF"],"padding":0},"axis":{"title":null,"ticks":false,"domain":false,"labelAlign":"left","labelPadding":30}},
 "color":{"field":"v","type":"quantitative","scale":{"domain":[2,1,0],"range":["#ff6469","#ffffff","#3a88c9"],"interpolate":"rgb"},"legend":{"orient":"none","legendX":314,"legendY":-6,"title":"Log₁₀ RPKM","titleFontSize":15,"titleFontWeight":"normal","titleColor":"black","titlePadding":14,"gradientLength":60,"gradientThickness":17,"gradientStrokeColor":"#808080","gradientStrokeWidth":1.5,"labelFontSize":17,"labelColor":"black","values":[0,1,2],"labelOffset":6,"titleLimit":300,"direction":"vertical"}}}},
{"width":0,"height":0,"data":{"values":[]},"mark":"point"}
]},

{"columns":3,"bounds":"flush","spacing":0,"resolve":{"scale":{"color":"independent"},"legend":{"color":"independent"}},"concat":[
{"width":277,"height":28.5,"data":{"values":[]},"mark":"point"},
{"width":41,"height":0,"data":{"values":[]},"mark":"point"},
{"width":145,"height":0,"data":{"values":[]},"mark":"point"},

{"width":277,"height":163,"data":{"name":"panels"},"transform":[{"filter":"datum.p=='C'"}],
 "encoding":{"x":{"field":"x","type":"quantitative","scale":{"domain":[-40.7,236.3]},"axis":null},"y":{"field":"y","type":"quantitative","scale":{"domain":[161,-2]},"axis":null}},
 "layer":[
  {"mark":{"type":"rect","color":"black"},"encoding":{"x2":{"field":"x2"},"y2":{"field":"y2"}}},
  {"data":{"name":"blobs"},"transform":[{"filter":"datum.p=='C'"}],"resolve":{"scale":{"size":"independent"}},
   "encoding":{"color":{"field":"t","type":"nominal","scale":{"domain":["body","dim","red","blue","magenta"],"range":["#c0141a","#7c0d12","#f21216","#1a1af5","#d622d6"]},"legend":null}},
   "layer":[
    {"mark":{"type":"circle","clip":true,"opacity":0.18},"encoding":{"size":{"field":"a","type":"quantitative","scale":{"domain":[0,1000],"range":[0,1700]},"legend":null}}},
    {"mark":{"type":"circle","clip":true,"opacity":0.22},"encoding":{"size":{"field":"a","type":"quantitative","scale":{"domain":[0,1000],"range":[0,1400]},"legend":null}}},
    {"mark":{"type":"circle","clip":true,"opacity":0.28},"encoding":{"size":{"field":"a","type":"quantitative","scale":{"domain":[0,1000],"range":[0,1150]},"legend":null}}},
    {"mark":{"type":"circle","clip":true,"opacity":0.35},"encoding":{"size":{"field":"a","type":"quantitative","scale":{"domain":[0,1000],"range":[0,900]},"legend":null}}},
    {"mark":{"type":"circle","clip":true,"opacity":0.5},"encoding":{"size":{"field":"a","type":"quantitative","scale":{"domain":[0,1000],"range":[0,650]},"legend":null}}}
   ]},
  {"data":{"name":"gaps"},"transform":[{"filter":"datum.p=='C'"}],"mark":{"type":"rect","color":"white"},"encoding":{"x2":{"field":"x2"},"y2":{"field":"y2"}}},
  {"mark":{"type":"rect","filled":false,"stroke":"#9a9a9a","strokeWidth":1},"encoding":{"x2":{"field":"x2"},"y2":{"field":"y2"}}},
  {"data":{"name":"bars2"},"transform":[{"filter":"datum.p=='C'"}],"mark":{"type":"rule","color":"white","strokeWidth":2.5},"encoding":{"x2":{"field":"x2"}}},
  {"data":{"name":"microText"},"transform":[{"filter":"datum.p=='C' && datum.k=='c'"}],"mark":{"type":"text","fontSize":16.5},"encoding":{"text":{"field":"label"},"color":{"field":"c","type":"nominal","scale":{"domain":["red","blue","black"],"range":["#f0192d","#0a78d8","#000000"]},"legend":null}}},
  {"data":{"name":"microText"},"transform":[{"filter":"datum.p=='C' && datum.k=='l'"}],"mark":{"type":"text","fontSize":17,"align":"left","color":"black"},"encoding":{"text":{"field":"label"}}},
  {"data":{"name":"microText"},"transform":[{"filter":"datum.p=='C' && datum.k=='b'"}],"mark":{"type":"text","fontSize":21,"fontWeight":"bold","align":"left","color":"black"},"encoding":{"text":{"field":"label"}}}
 ],"resolve":{"scale":{"color":"independent"}}},
{"width":41,"height":0,"data":{"values":[]},"mark":"point"},
{"width":145,"height":145,"data":{"name":"scatter"},"transform":[{"filter":"datum.p=='C'"}],
 "encoding":{"x":{"field":"x","type":"quantitative","scale":{"domain":[0.29,2.63]},"axis":{"title":null,"values":[1,2],"labelExpr":"datum.value==1?'IVO':'IVF'"}},"y":{"field":"y","type":"quantitative","scale":{"domain":[0,3]},"axis":{"title":"TET1/DAPI Intensity","values":[0,1,2,3],"offset":-3,"titleX":-18,"titleY":74}}},
 "layer":[
  {"mark":{"type":"point","filled":false,"size":28,"strokeWidth":2,"opacity":1},"encoding":{"color":{"field":"g","type":"nominal","scale":{"domain":["IVO","IVF"],"range":["#8c8c8c","#f58a1f"]},"legend":null}}},
  {"data":{"name":"bars"},"transform":[{"filter":"datum.p=='C'"}],"mark":{"type":"rule","color":"#222222","strokeWidth":1.3},"encoding":{"x2":{"field":"x2"},"y2":{"field":"y2"}}},
  {"data":{"name":"bracket"},"transform":[{"filter":"datum.p=='C'"}],"mark":{"type":"line","color":"#808080","strokeWidth":1.2},"encoding":{"order":{"field":"i"}}},
  {"data":{"name":"scatterText"},"transform":[{"filter":"datum.p=='C' && datum.k=='star'"}],"mark":{"type":"text","fontSize":16,"color":"black"},"encoding":{"text":{"field":"label"}}},
  {"data":{"name":"scatterText"},"transform":[{"filter":"datum.p=='C' && datum.k=='n'"}],"mark":{"type":"text","fontSize":17,"color":"#00b36e"},"encoding":{"text":{"field":"label"}}}
 ]},

{"width":0,"height":57,"data":{"values":[]},"mark":"point"},
{"width":0,"height":0,"data":{"values":[]},"mark":"point"},
{"width":0,"height":0,"data":{"values":[]},"mark":"point"},

{"width":277,"height":157,"data":{"name":"panels"},"transform":[{"filter":"datum.p=='D'"}],
 "encoding":{"x":{"field":"x","type":"quantitative","scale":{"domain":[-40.7,236.3]},"axis":null},"y":{"field":"y","type":"quantitative","scale":{"domain":[157,0]},"axis":null}},
 "layer":[
  {"mark":{"type":"rect","color":"black"},"encoding":{"x2":{"field":"x2"},"y2":{"field":"y2"}}},
  {"data":{"name":"blobs"},"transform":[{"filter":"datum.p=='D'"}],"resolve":{"scale":{"size":"independent"}},
   "encoding":{"color":{"field":"t","type":"nominal","scale":{"domain":["body","dim","red","blue","magenta"],"range":["#c0141a","#7c0d12","#f21216","#1a1af5","#d622d6"]},"legend":null}},
   "layer":[
    {"mark":{"type":"circle","clip":true,"opacity":0.18},"encoding":{"size":{"field":"a","type":"quantitative","scale":{"domain":[0,1000],"range":[0,1700]},"legend":null}}},
    {"mark":{"type":"circle","clip":true,"opacity":0.22},"encoding":{"size":{"field":"a","type":"quantitative","scale":{"domain":[0,1000],"range":[0,1400]},"legend":null}}},
    {"mark":{"type":"circle","clip":true,"opacity":0.28},"encoding":{"size":{"field":"a","type":"quantitative","scale":{"domain":[0,1000],"range":[0,1150]},"legend":null}}},
    {"mark":{"type":"circle","clip":true,"opacity":0.35},"encoding":{"size":{"field":"a","type":"quantitative","scale":{"domain":[0,1000],"range":[0,900]},"legend":null}}},
    {"mark":{"type":"circle","clip":true,"opacity":0.5},"encoding":{"size":{"field":"a","type":"quantitative","scale":{"domain":[0,1000],"range":[0,650]},"legend":null}}}
   ]},
  {"data":{"name":"gaps"},"transform":[{"filter":"datum.p=='D'"}],"mark":{"type":"rect","color":"white"},"encoding":{"x2":{"field":"x2"},"y2":{"field":"y2"}}},
  {"mark":{"type":"rect","filled":false,"stroke":"#9a9a9a","strokeWidth":1},"encoding":{"x2":{"field":"x2"},"y2":{"field":"y2"}}},
  {"data":{"name":"bars2"},"transform":[{"filter":"datum.p=='D'"}],"mark":{"type":"rule","color":"white","strokeWidth":2.5},"encoding":{"x2":{"field":"x2"}}},
  {"data":{"name":"microText"},"transform":[{"filter":"datum.p=='D' && datum.k=='c'"}],"mark":{"type":"text","fontSize":16.5},"encoding":{"text":{"field":"label"},"color":{"field":"c","type":"nominal","scale":{"domain":["red","blue","black"],"range":["#f0192d","#0a78d8","#000000"]},"legend":null}}},
  {"data":{"name":"microText"},"transform":[{"filter":"datum.p=='D' && datum.k=='l'"}],"mark":{"type":"text","fontSize":17,"align":"left","color":"black"},"encoding":{"text":{"field":"label"}}},
  {"data":{"name":"microText"},"transform":[{"filter":"datum.p=='D' && datum.k=='b'"}],"mark":{"type":"text","fontSize":21,"fontWeight":"bold","align":"left","color":"black"},"encoding":{"text":{"field":"label"}}}
 ],"resolve":{"scale":{"color":"independent"}}},
{"width":0,"height":0,"data":{"values":[]},"mark":"point"},
{"width":145,"height":147,"data":{"name":"scatter"},"transform":[{"filter":"datum.p=='D'"}],
 "encoding":{"x":{"field":"x","type":"quantitative","scale":{"domain":[0.335,2.61]},"axis":{"title":null,"values":[1,2],"labelExpr":"datum.value==1?'IVO':'IVF'"}},"y":{"field":"y","type":"quantitative","scale":{"domain":[0,3]},"axis":{"title":"TET2/DAPI Intensity","values":[0,1,2,3],"titleX":-20,"titleY":74}}},
 "layer":[
  {"mark":{"type":"point","filled":false,"size":28,"strokeWidth":2,"opacity":1},"encoding":{"color":{"field":"g","type":"nominal","scale":{"domain":["IVO","IVF"],"range":["#8c8c8c","#f58a1f"]},"legend":null}}},
  {"data":{"name":"bars"},"transform":[{"filter":"datum.p=='D'"}],"mark":{"type":"rule","color":"#222222","strokeWidth":1.3},"encoding":{"x2":{"field":"x2"},"y2":{"field":"y2"}}},
  {"data":{"name":"bracket"},"transform":[{"filter":"datum.p=='D'"}],"mark":{"type":"line","color":"#333333","strokeWidth":1.2},"encoding":{"order":{"field":"i"}}},
  {"data":{"name":"scatterText"},"transform":[{"filter":"datum.p=='D' && datum.k=='star'"}],"mark":{"type":"text","fontSize":16,"color":"black"},"encoding":{"text":{"field":"label"}}},
  {"data":{"name":"scatterText"},"transform":[{"filter":"datum.p=='D' && datum.k=='n'"}],"mark":{"type":"text","fontSize":17,"color":"#00b36e"},"encoding":{"text":{"field":"label"}}}
 ]}
]}
],"spacing":0,"resolve":{"scale":{"color":"independent"},"legend":{"color":"independent"}}}
]
}
